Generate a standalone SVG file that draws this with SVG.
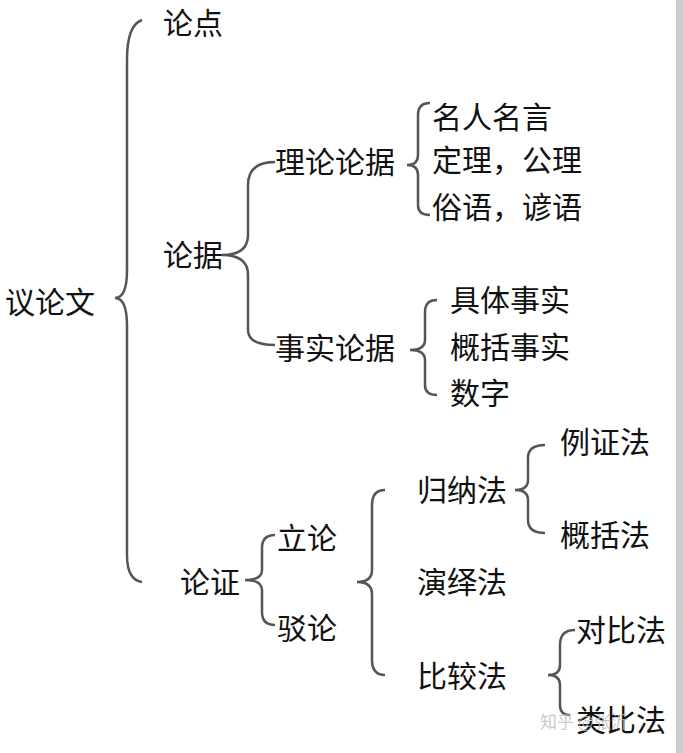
<svg xmlns="http://www.w3.org/2000/svg" width="683" height="753" viewBox="0 0 683 753">
<style>
.t{font-family:"Noto Sans CJK SC","Liberation Sans",sans-serif;font-size:30px;fill:#111}
.b{fill:none;stroke:#555;stroke-width:2.5}
</style>
<rect width="683" height="753" fill="#fff"/>
<rect x="676" y="0" width="7" height="753" fill="#ccc"/>
<g id="connectors">
<path class="b" d="M142,20 Q127,25 127,60 L127,270 Q127,298 115,298 Q127,298 127,326 L127,555 Q127,580 142,582"/>
<path class="b" d="M275,162 Q248,162 248,185 L248,235 Q248,255 222,255 Q248,255 248,275 L248,330 Q248,345 275,345"/>
<path class="b" d="M430,103 Q418,103 418,115 L418,155 Q418,165 407,165 Q418,165 418,175 L418,205 Q418,215 430,215"/>
<path class="b" d="M437,300 Q425,300 425,312 L425,340 Q425,350 410,350 Q425,350 425,360 L425,385 Q425,395 437,395"/>
<path class="b" d="M275,535 Q262,535 262,548 L262,570 Q262,580 245,580 Q262,580 262,590 L262,612 Q262,625 275,625"/>
<path class="b" d="M385,490 Q372,490 372,505 L372,570 Q372,582 357,582 Q372,582 372,594 L372,660 Q372,675 385,675"/>
<path class="b" d="M545,445 Q528,445 528,458 L528,480 Q528,490 515,490 Q528,490 528,500 L528,520 Q528,533 545,533"/>
<path class="b" d="M575,630 Q560,630 560,645 L560,665 Q560,675 548,675 Q560,675 560,685 L560,705 Q560,715 570,715"/>
</g>
<g id="n0"><text class="t" x="5" y="313">议论文</text></g>
<g id="n1"><text class="t" x="163" y="34">论点</text></g>
<g id="n2"><text class="t" x="163" y="266">论据</text></g>
<g id="n3"><text class="t" x="180" y="593">论证</text></g>
<g id="n4"><text class="t" x="275" y="173">理论论据</text></g>
<g id="n5"><text class="t" x="275" y="359">事实论据</text></g>
<g id="n6"><text class="t" x="432" y="128">名人名言</text></g>
<g id="n7"><text class="t" x="432" y="171">定理，公理</text></g>
<g id="n8"><text class="t" x="432" y="218">俗语，谚语</text></g>
<g id="n9"><text class="t" x="450" y="311">具体事实</text></g>
<g id="n10"><text class="t" x="450" y="358">概括事实</text></g>
<g id="n11"><text class="t" x="450" y="404">数字</text></g>
<g id="n12"><text class="t" x="277" y="549">立论</text></g>
<g id="n13"><text class="t" x="277" y="639">驳论</text></g>
<g id="n14"><text class="t" x="417" y="501">归纳法</text></g>
<g id="n15"><text class="t" x="417" y="593">演绎法</text></g>
<g id="n16"><text class="t" x="417" y="687">比较法</text></g>
<g id="n17"><text class="t" x="560" y="453">例证法</text></g>
<g id="n18"><text class="t" x="560" y="546">概括法</text></g>
<g id="n19"><text class="t" x="576" y="641">对比法</text></g>
<g id="n20"><text class="t" x="576" y="731">类比法</text></g>
<text x="540" y="728" font-family="Noto Sans CJK SC,sans-serif" font-size="17" fill="#bbb" fill-opacity="0.8">知乎 @张沂</text>
</svg>
